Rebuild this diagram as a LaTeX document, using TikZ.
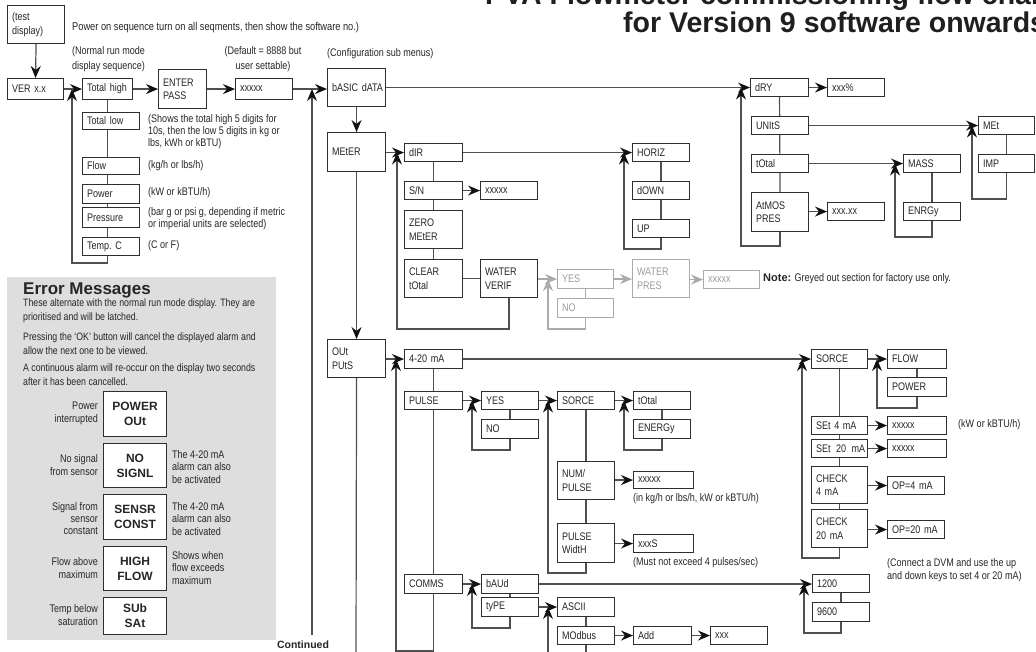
\documentclass[tikz,border=0pt]{standalone}
\usepackage{fontspec}
\setmainfont{Liberation Sans}[FakeStretch=0.82]
\newfontfamily\bsans{Liberation Sans}
\usetikzlibrary{arrows.meta}
\pgfdeclarelayer{bg}
\pgfsetlayers{bg,main}
\definecolor{ln}{HTML}{505050}
\definecolor{bdr}{HTML}{2E2E2E}
\definecolor{txt}{HTML}{262626}
\definecolor{tip}{HTML}{111111}
\definecolor{gry}{HTML}{ABABAB}
\definecolor{gtx}{HTML}{9C9C9C}
\definecolor{panelc}{HTML}{DEDEDE}
\newcommand\BX[7][]{%
 \pgfmathsetmacro\bxw{#5-#3}%
 \pgfmathsetmacro\bxh{#6-#4}%
 \pgfmathsetmacro\bxt{#5-#3-9}%
 \node[box,anchor=north west,minimum width=\bxw pt,minimum height=\bxh pt,text width=\bxt pt,#1] (#2) at (#3,#4) {#7};}
\tikzset{
 box/.style={draw=bdr, line width=1.1pt, fill=white, inner xsep=4.5pt, inner ysep=1pt, align=left, font=\fontsize{11}{13.5}\selectfont, text=txt},
 gbox/.style={draw=gry, text=gtx},
 ebox/.style={font=\bsans\bfseries\fontsize{12}{15}\selectfont, align=center},
 ann/.style={anchor=west, align=left, inner sep=0pt, font=\fontsize{11}{12.5}\selectfont, text=txt},
 annw/.style={ann, font=\fontsize{11}{14.5}\selectfont},
 annp/.style={ann, font=\fontsize{10.7}{14.3}\selectfont},
 annr/.style={ann, anchor=east, align=right},
 con/.style={draw=ln, line width=1.2pt},
 arr/.style={con, -{Stealth[length=12pt,width=10pt,inset=4pt,color=tip]}},
 gcon/.style={draw=gry, line width=1.2pt},
 garr/.style={gcon, -{Stealth[length=12pt,width=10pt,inset=4pt,color=gry]}},
 ttl/.style={anchor=base west, inner sep=0pt, font=\bsans\bfseries\fontsize{28.5}{30}\selectfont, text=black!88},
}
\begin{document}
\begin{tikzpicture}[x=1pt,y=-1pt]
\useasboundingbox (0,0) rectangle (1036,652);
% title
\node[ttl] (t1) at (485,5) {PVA Flowmeter commissioning flow chart};
\node[ttl] (t2) at (623,33) {for Version 9 software onwards};
% top row
\BX{td}{7}{5}{64}{43}{(test\\display)}
\node[ann, font=\fontsize{11.3}{13}\selectfont] (pwrtxt) at (72,28) {Power on sequence turn on all seqments, then show the software no.)};
\BX{ver}{7}{78}{63}{99}{VER~x.x}
\BX{th}{82}{78}{132}{99}{Total~high}
\BX{ep}{158}{69}{206}{108}{ENTER\\PASS}
\BX{xa}{235}{78}{292}{99}{xxxxx}
\node[annw] (nrm) at (72,59) {(Normal run mode\\display sequence)};
\node[annw, anchor=center, align=center] (dflt) at (263,59) {(Default = 8888 but\\user settable)};
\node[ann] (cfg) at (327,54) {(Configuration sub menus)};
\BX{bd}{327}{68}{385}{106}{bASIC~dATA}
% run mode column
\BX{tl}{82}{112}{139}{129}{Total~low}
\BX{fl}{82}{157}{139}{174}{Flow}
\BX{pwr}{82}{184}{139}{203}{Power}
\BX{pr}{82}{207}{139}{227}{Pressure}
\BX{tc}{82}{237}{139}{255}{Temp.~C}
\node[ann, font=\fontsize{11}{12}\selectfont] (a1) at (148,132) {(Shows the total high 5 digits for\\10s, then the low 5 digits in kg or\\lbs, kWh or kBTU)};
\node[ann] (a2) at (148,165.5) {(kg/h or lbs/h)};
\node[ann] (a3) at (148,193) {(kW or kBTU/h)};
\node[ann] (a4) at (148,218.5) {(bar g or psi g, depending if metric\\or imperial units are selected)};
\node[ann] (a5) at (148,246) {(C or F)};
% error panel
\begin{pgfonlayer}{bg}
\fill[white] (0,0) rectangle (1036,652);
\node[fill=panelc, draw=none, anchor=north west, minimum width=269pt, minimum height=363pt, inner sep=0pt] (panel) at (7,277) {};
\end{pgfonlayer}
\node[anchor=base west, inner sep=0pt, font=\bsans\bfseries\fontsize{17}{20}\selectfont, text=txt] (etitle) at (23,295) {Error Messages};
\node[annp] (ep1) at (23,311) {These alternate with the normal run mode display. They are\\prioritised and will be latched.};
\node[annp] (ep2) at (23,344) {Pressing the `OK' button will cancel the displayed alarm and\\allow the next one to be viewed.};
\node[annp] (ep3) at (23,375) {A continuous alarm will re-occur on the display two seconds\\after it has been cancelled.};
\BX[ebox]{e1}{103}{391}{166}{436}{POWER\\OUt}
\BX[ebox]{e2}{103}{443}{166}{487}{NO\\SIGNL}
\BX[ebox]{e3}{103}{494}{166}{539}{SENSR\\CONST}
\BX[ebox]{e4}{103}{546}{166}{590}{HIGH\\FLOW}
\BX[ebox]{e5}{103}{597}{166}{634}{SUb\\SAt}
\node[annr, font=\fontsize{11}{13}\selectfont] (l1) at (98,413.5) {Power\\interrupted};
\node[annr, font=\fontsize{11}{13}\selectfont] (l2) at (98,465) {No signal\\from sensor};
\node[annr, font=\fontsize{11}{12}\selectfont] (l3) at (98,519) {Signal from\\sensor\\constant};
\node[annr, font=\fontsize{11}{13}\selectfont] (l4) at (98,568) {Flow above\\maximum};
\node[annr, font=\fontsize{11}{13}\selectfont] (l5) at (98,615.5) {Temp below\\saturation};
\node[ann] (r2) at (172,467) {The 4-20 mA\\alarm can also\\be activated};
\node[ann] (r3) at (172,519) {The 4-20 mA\\alarm can also\\be activated};
\node[ann] (r4) at (172,568) {Shows when\\flow exceeds\\maximum};
% configuration column
\BX{me}{327}{132}{385}{171}{MEtER}
\BX{op}{327}{339}{385}{377}{OUt\\PUtS}
% meter submenu
\BX{dir}{404}{143}{462}{161}{dIR}
\BX{sn}{404}{181}{462}{199}{S/N}
\BX{snx}{480}{181}{537}{199}{xxxxx}
\BX{zero}{404}{210}{462}{248}{ZERO\\MEtER}
\BX{clear}{404}{259}{462}{297}{CLEAR\\tOtal}
\BX{wv}{480}{259}{537}{297}{WATER\\VERIF}
\BX{horiz}{632}{143}{689}{161}{HORIZ}
\BX{down}{632}{181}{689}{199}{dOWN}
\BX{up}{632}{219}{689}{237}{UP}
\BX[gbox]{yesg}{557}{269}{613}{288}{YES}
\BX[gbox]{nog}{557}{298}{613}{317}{NO}
\BX[gbox]{wpg}{632}{259}{689}{297}{WATER\\PRES}
\BX[gbox]{xg}{703}{270}{759}{288}{xxxxx}
\node[ann] (note) at (763,279) {{\bsans\bfseries Note:} Greyed out section for factory use only.};
% basic data submenu
\BX{dry}{750}{78}{808}{96}{dRY}
\BX{drypct}{827}{78}{884}{96}{xxx\%}
\BX{units}{751}{116}{808}{134}{UNItS}
\BX{totb}{751}{154}{808}{172}{tOtal}
\BX{atmos}{751}{192}{808}{231}{AtMOS\\PRES}
\BX{atx}{827}{202}{884}{220}{xxx.xx}
\BX{met}{978}{116}{1034}{134}{MEt}
\BX{imp}{978}{154}{1034}{172}{IMP}
\BX{mass}{903}{154}{960}{172}{MASS}
\BX{enrgy}{903}{202}{960}{220}{ENRGy}
% outputs
\BX{ma}{404}{349}{462}{368}{4-20~mA}
\BX{pulse}{404}{391}{462}{409}{PULSE}
\BX{comms}{404}{574}{462}{593}{COMMS}
\BX{sorcea}{811}{349}{867}{368}{SORCE}
\BX{flowb}{887}{349}{946}{368}{FLOW}
\BX{powerb}{887}{377}{946}{396}{POWER}
\BX{set4}{811}{416}{867}{434}{SEt~4~mA}
\BX{set4x}{887}{416}{946}{434}{xxxxx}
\node[ann] (kw) at (958,425) {(kW or kBTU/h)};
\BX[inner xsep=4pt]{set20}{811}{439}{867}{457}{SEt~\,20~\,mA}
\BX{set20x}{887}{439}{946}{457}{xxxxx}
\BX{chk4}{811}{466}{867}{503}{CHECK\\4~mA}
\BX{op4}{887}{476}{944}{494}{OP=4~mA}
\BX{chk20}{811}{509}{867}{547}{CHECK\\20~mA}
\BX{op20}{887}{520}{944}{538}{OP=20~mA}
\node[ann] (dvm) at (887,570) {(Connect a DVM and use the up\\and down keys to set 4 or 20 mA)};
\BX{yesa}{481}{391}{538}{409}{YES}
\BX{noa}{481}{419}{538}{438}{NO}
\BX{sorceb}{557}{391}{614}{409}{SORCE}
\BX{totc}{633}{391}{690}{409}{tOtal}
\BX{energy}{633}{419}{690}{438}{ENERGy}
\BX{nump}{557}{461}{614}{499}{NUM/\\PULSE}
\BX{npx}{633}{471}{693}{488}{xxxxx}
\node[ann] (nptxt) at (633,499) {(in kg/h or lbs/h, kW or kBTU/h)};
\BX{pwid}{557}{523}{614}{562}{PULSE\\WidtH}
\BX{pwx}{633}{534}{693}{552}{xxxS}
\node[ann] (pwtxt) at (633,563) {(Must not exceed 4 pulses/sec)};
\BX{baud}{481}{574}{538}{593}{bAUd}
\BX{typ}{481}{597}{538}{616}{tyPE}
\BX{b1200}{812}{574}{869}{592}{1200}
\BX{b9600}{812}{602}{869}{621}{9600}
\BX{ascii}{557}{597}{614}{616}{ASCII}
\BX{modbus}{557}{626}{614}{644}{MOdbus}
\BX{add}{633}{626}{691}{644}{Add}
\BX{xxx}{710}{626}{767}{644}{xxx}
\node[anchor=base, inner sep=0pt, font=\bsans\bfseries\fontsize{10.5}{12}\selectfont, text=txt] (contlbl) at (303,648) {Continued};
% coordinates
\coordinate (lb) at (72,263);
\coordinate (cont) at (312,635);
\coordinate (opb) at (356,653);
\coordinate (wl) at (397,329);
\coordinate (hl) at (624,249);
\coordinate (gl) at (548,329);
\coordinate (dl) at (741,246);
\coordinate (ml) at (972,199);
\coordinate (al) at (895,237);
\coordinate (ob) at (396,651);
\coordinate (fl2) at (877,408);
\coordinate (sl) at (802,558);
\coordinate (yl) at (472,450);
\coordinate (tl3) at (624,450);
\coordinate (pl) at (548,573);
\coordinate (bl) at (804,633);
\coordinate (cl) at (472,628);
\coordinate (mbb) at (585,653);
\coordinate (asl) at (548,653);
\begin{pgfonlayer}{bg}
% top
\draw[arr] (td.south) -- (ver.north);
\draw[arr] (ver.east) -- (th.west);
\draw[arr] (th.east) -- (ep.west |- th.east);
\draw[arr] (ep.east) -- (xa.west |- ep.east);
\draw[arr] (xa.east) -- (bd.west |- xa.east);
\draw[arr] (th.south) |- (lb) -- (lb |- th.west);
\draw[arr] (cont) -- (cont |- xa.east);
\draw[arr] (bd.south) -- (me.north);
\draw[arr] (me.south) -- (op.north);
\draw[con] (op.south) -- (opb);
\draw[arr] (bd.east) -- (dry.west |- bd.east);
% meter
\draw[arr] (me.east |- dir.west) -- (dir.west);
\draw[con] (dir.south) -- (clear.north);
\draw[arr] (sn.east) -- (snx.west);
\draw[con] (clear.east) -- (wv.west);
\draw[arr] (wv.south) |- (wl) -- (wl |- dir.west);
\draw[arr] (dir.east) -- (horiz.west);
\draw[con] (horiz.south) -- (up.north);
\draw[arr] (up.south) |- (hl) -- (hl |- horiz.west);
\draw[garr] (wv.east |- yesg.west) -- (yesg.west);
\draw[garr] (yesg.east) -- (wpg.west |- yesg.east);
\draw[garr] (wpg.east |- xg.west) -- (xg.west);
\draw[gcon] (yesg.south) -- (nog.north);
\draw[garr] (nog.south) |- (gl) -- (gl |- yesg.west);
% basic data
\draw[arr] (dry.east) -- (drypct.west);
\draw[con] (dry.south) -- (atmos.north);
\draw[arr] (atmos.south) |- (dl) -- (dl |- dry.west);
\draw[arr] (units.east) -- (met.west);
\draw[arr] (totb.east) -- (mass.west);
\draw[arr] (atmos.east |- atx.west) -- (atx.west);
\draw[con] (met.south) -- (imp.north);
\draw[arr] (imp.south) |- (ml) -- (ml |- met.west);
\draw[con] (mass.south) -- (enrgy.north);
\draw[arr] (enrgy.south) |- (al) -- (al |- mass.west);
% outputs
\draw[arr] (op.east |- ma.west) -- (ma.west);
\draw[arr] (ma.south) |- (ob) -- (ob |- ma.west);
\draw[arr] (ma.east) -- (sorcea.west |- ma.east);
\draw[arr] (sorcea.east) -- (flowb.west);
\draw[con] (flowb.south) -- (powerb.north);
\draw[arr] (powerb.south) |- (fl2) -- (fl2 |- flowb.west);
\draw[con] (sorcea.south) -- (chk20.north);
\draw[arr] (chk20.south) |- (sl) -- (sl |- sorcea.west);
\draw[arr] (set4.east) -- (set4x.west);
\draw[arr] (set20.east) -- (set20x.west);
\draw[arr] (chk4.east |- op4.west) -- (op4.west);
\draw[arr] (chk20.east |- op20.west) -- (op20.west);
% pulse
\draw[arr] (pulse.east) -- (yesa.west);
\draw[con] (yesa.south) -- (noa.north);
\draw[arr] (noa.south) |- (yl) -- (yl |- yesa.west);
\draw[arr] (yesa.east) -- (sorceb.west);
\draw[arr] (sorceb.east) -- (totc.west);
\draw[con] (totc.south) -- (energy.north);
\draw[arr] (energy.south) |- (tl3) -- (tl3 |- totc.west);
\draw[con] (sorceb.south) -- (pwid.north);
\draw[arr] (pwid.south) |- (pl) -- (pl |- sorceb.west);
\draw[arr] (nump.east |- npx.west) -- (npx.west);
\draw[arr] (pwid.east |- pwx.west) -- (pwx.west);
% comms
\draw[arr] (comms.east) -- (baud.west);
\draw[arr] (baud.east) -- (b1200.west |- baud.east);
\draw[con] (b1200.south) -- (b9600.north);
\draw[arr] (b9600.south) |- (bl) -- (bl |- b1200.west);
\draw[con] (baud.south) -- (typ.north);
\draw[arr] (typ.south) |- (cl) -- (cl |- baud.west);
\draw[arr] (typ.east) -- (ascii.west);
\draw[con] (ascii.south) -- (modbus.north);
\draw[con] (modbus.south) -- (modbus.south |- mbb);
\draw[arr] (asl) -- (asl |- ascii.west);
\draw[arr] (modbus.east) -- (add.west);
\draw[arr] (add.east) -- (xxx.west);
\end{pgfonlayer}
\end{tikzpicture}
\end{document}
